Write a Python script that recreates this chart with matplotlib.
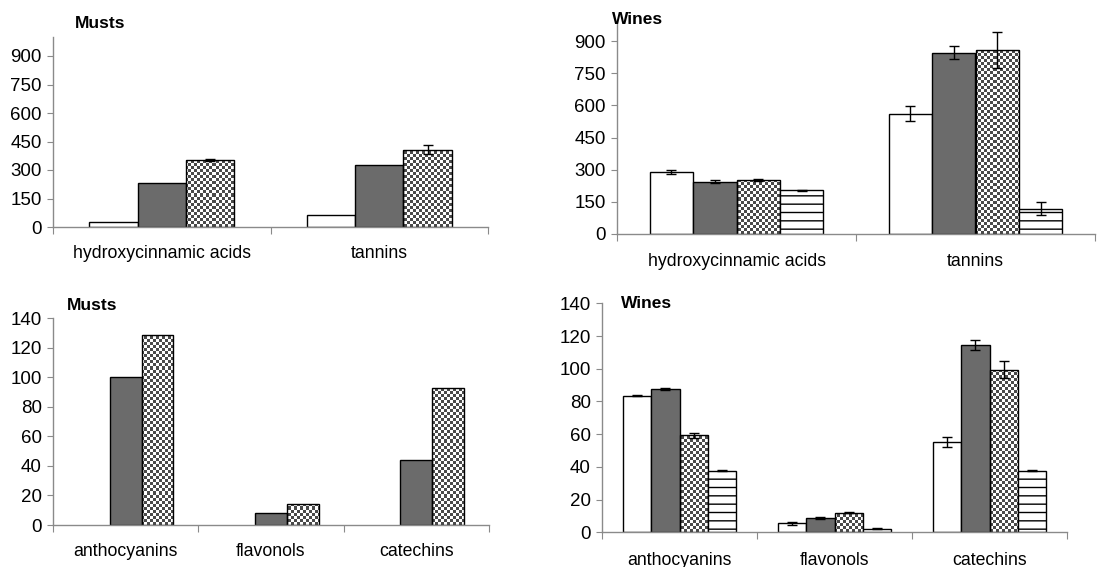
import numpy as np
import matplotlib.pyplot as plt
from matplotlib.colors import ListedColormap

plt.rcParams['font.family'] = ['Liberation Sans', 'DejaVu Sans']

W, H = 1119, 567

# categories
top_cats = ['hydroxycinnamic acids', 'tannins']
bot_cats = ['anthocyanins', 'flavonols', 'catechins']

# musts, top panel
must_top_white = [25, 63]
must_top_dark = [233, 326]
must_top_check = [354, 407]
must_top_check_err = [4, 25]

# musts, bottom panel
must_bot_white = [0, 0, 0]
must_bot_dark = [100, 8, 44]
must_bot_check = [129, 14, 93]

# wines, top panel
wine_top_white = [288, 561]
wine_top_dark = [244, 846]
wine_top_check = [250, 858]
wine_top_stripe = [204, 118]
wine_top_white_err = [10, 35]
wine_top_dark_err = [6, 31]
wine_top_check_err = [5, 83]
wine_top_stripe_err = [2, 29]

# wines, bottom panel
wine_bot_white = [83.5, 5.4, 55.4]
wine_bot_dark = [87.5, 8.9, 114.5]
wine_bot_check = [59.3, 12.0, 99.5]
wine_bot_stripe = [37.6, 2.3, 37.6]
wine_bot_white_err = [0.4, 0.8, 3]
wine_bot_dark_err = [0.6, 0.6, 3]
wine_bot_check_err = [1.5, 0.2, 5]
wine_bot_stripe_err = [0.4, 0.4, 0.4]

top_yticks = [0, 150, 300, 450, 600, 750, 900]
bot_yticks = [0, 20, 40, 60, 80, 100, 120, 140]

DARK = '#6b6b6b'
AXC = '#8a8a8a'
FS = 12.7
YFS = 13.5


def px_rect(x0, x1, y_zero, y_top):
    return [x0 / W, 1 - y_zero / H, (x1 - x0) / W, (y_zero - y_top) / H]


def panel(fig, rect, cats, series, yticks, ymax, width, title, txy, lpad):
    ax = fig.add_axes(rect)
    n = len(cats)
    x = np.arange(n)
    ns = len(series)
    ax.set_xlim(-0.5, n - 0.5)
    ax.set_ylim(0, ymax)
    wpx = rect[2] * W
    hpx = rect[3] * H
    for i, (vals, style, err) in enumerate(series):
        xs = x + (i - (ns - 1) / 2) * width
        h = np.array(vals, dtype=float)
        h[h == 0] = np.nan
        if style == 'white':
            ax.bar(xs, h, width, color='white', edgecolor='black', lw=1, zorder=2)
        elif style == 'dark':
            ax.bar(xs, h, width, color=DARK, edgecolor='black', lw=1, zorder=2)
        elif style == 'stripe':
            ax.bar(xs, h, width, color='white', edgecolor='black', lw=1,
                   hatch='--', zorder=2)
        elif style == 'check':
            bars = ax.bar(xs, h, width, color='none', edgecolor='black', lw=1, zorder=2)
            nx, ny = int(wpx / 3), int(hpx / 3)
            arr = np.indices((ny, nx)).sum(0) % 2
            for b in bars:
                im = ax.imshow(arr, cmap=ListedColormap(['white', '#4a4a4a']),
                               extent=(-0.5, n - 0.5, 0, ymax), origin='lower',
                               aspect='auto', interpolation='nearest', zorder=1.5)
                im.set_clip_path(b)
        if err is not None:
            ax.errorbar(xs, h, yerr=err, fmt='none', ecolor='black',
                        elinewidth=1, capsize=3.5, capthick=1, zorder=3)
    ax.set_xlim(-0.5, n - 0.5)
    ax.set_ylim(0, ymax)
    ax.set_yticks(yticks)
    ax.set_xticks(np.arange(n + 1) - 0.5)
    ax.set_xticklabels([])
    ax.set_xticks(x, minor=True)
    ax.set_xticklabels(cats, minor=True)
    ax.tick_params(axis='x', which='major', length=5, color=AXC, direction='out')
    ax.tick_params(axis='x', which='minor', length=0, pad=lpad, labelsize=FS)
    ax.tick_params(axis='y', length=4, color=AXC, pad=4, labelsize=YFS)
    for s in ['top', 'right']:
        ax.spines[s].set_visible(False)
    for s in ['left', 'bottom']:
        ax.spines[s].set_color(AXC)
        ax.spines[s].set_linewidth(1)
    ax.patch.set_alpha(0)
    fig.text(txy[0] / W, 1 - txy[1] / H, title, fontsize=12.5, fontweight='bold',
             ha='left', va='center')
    return ax


fig = plt.figure(figsize=(W / 100, H / 100), dpi=100)

panel(fig, px_rect(53, 488, 227, 37), top_cats,
      [(must_top_white, 'white', None), (must_top_dark, 'dark', None),
       (must_top_check, 'check', must_top_check_err)],
      top_yticks, 1000, 0.222, 'Musts', (75, 24), 13)

panel(fig, px_rect(617, 1095, 234, 19.6), top_cats,
      [(wine_top_white, 'white', wine_top_white_err),
       (wine_top_dark, 'dark', wine_top_dark_err),
       (wine_top_check, 'check', wine_top_check_err),
       (wine_top_stripe, 'stripe', wine_top_stripe_err)],
      top_yticks, 1000, 0.182, 'Wines', (612, 19), 14)

panel(fig, px_rect(53, 489, 525, 318.3), bot_cats,
      [(must_bot_white, 'white', None), (must_bot_dark, 'dark', None),
       (must_bot_check, 'check', None)],
      bot_yticks, 140, 0.219, 'Musts', (67, 306), 13)

panel(fig, px_rect(602, 1067, 532.3, 303.3), bot_cats,
      [(wine_bot_white, 'white', wine_bot_white_err),
       (wine_bot_dark, 'dark', wine_bot_dark_err),
       (wine_bot_check, 'check', wine_bot_check_err),
       (wine_bot_stripe, 'stripe', wine_bot_stripe_err)],
      bot_yticks, 140, 0.183, 'Wines', (621, 304), 14)

fig.savefig('out.png', dpi=100)
